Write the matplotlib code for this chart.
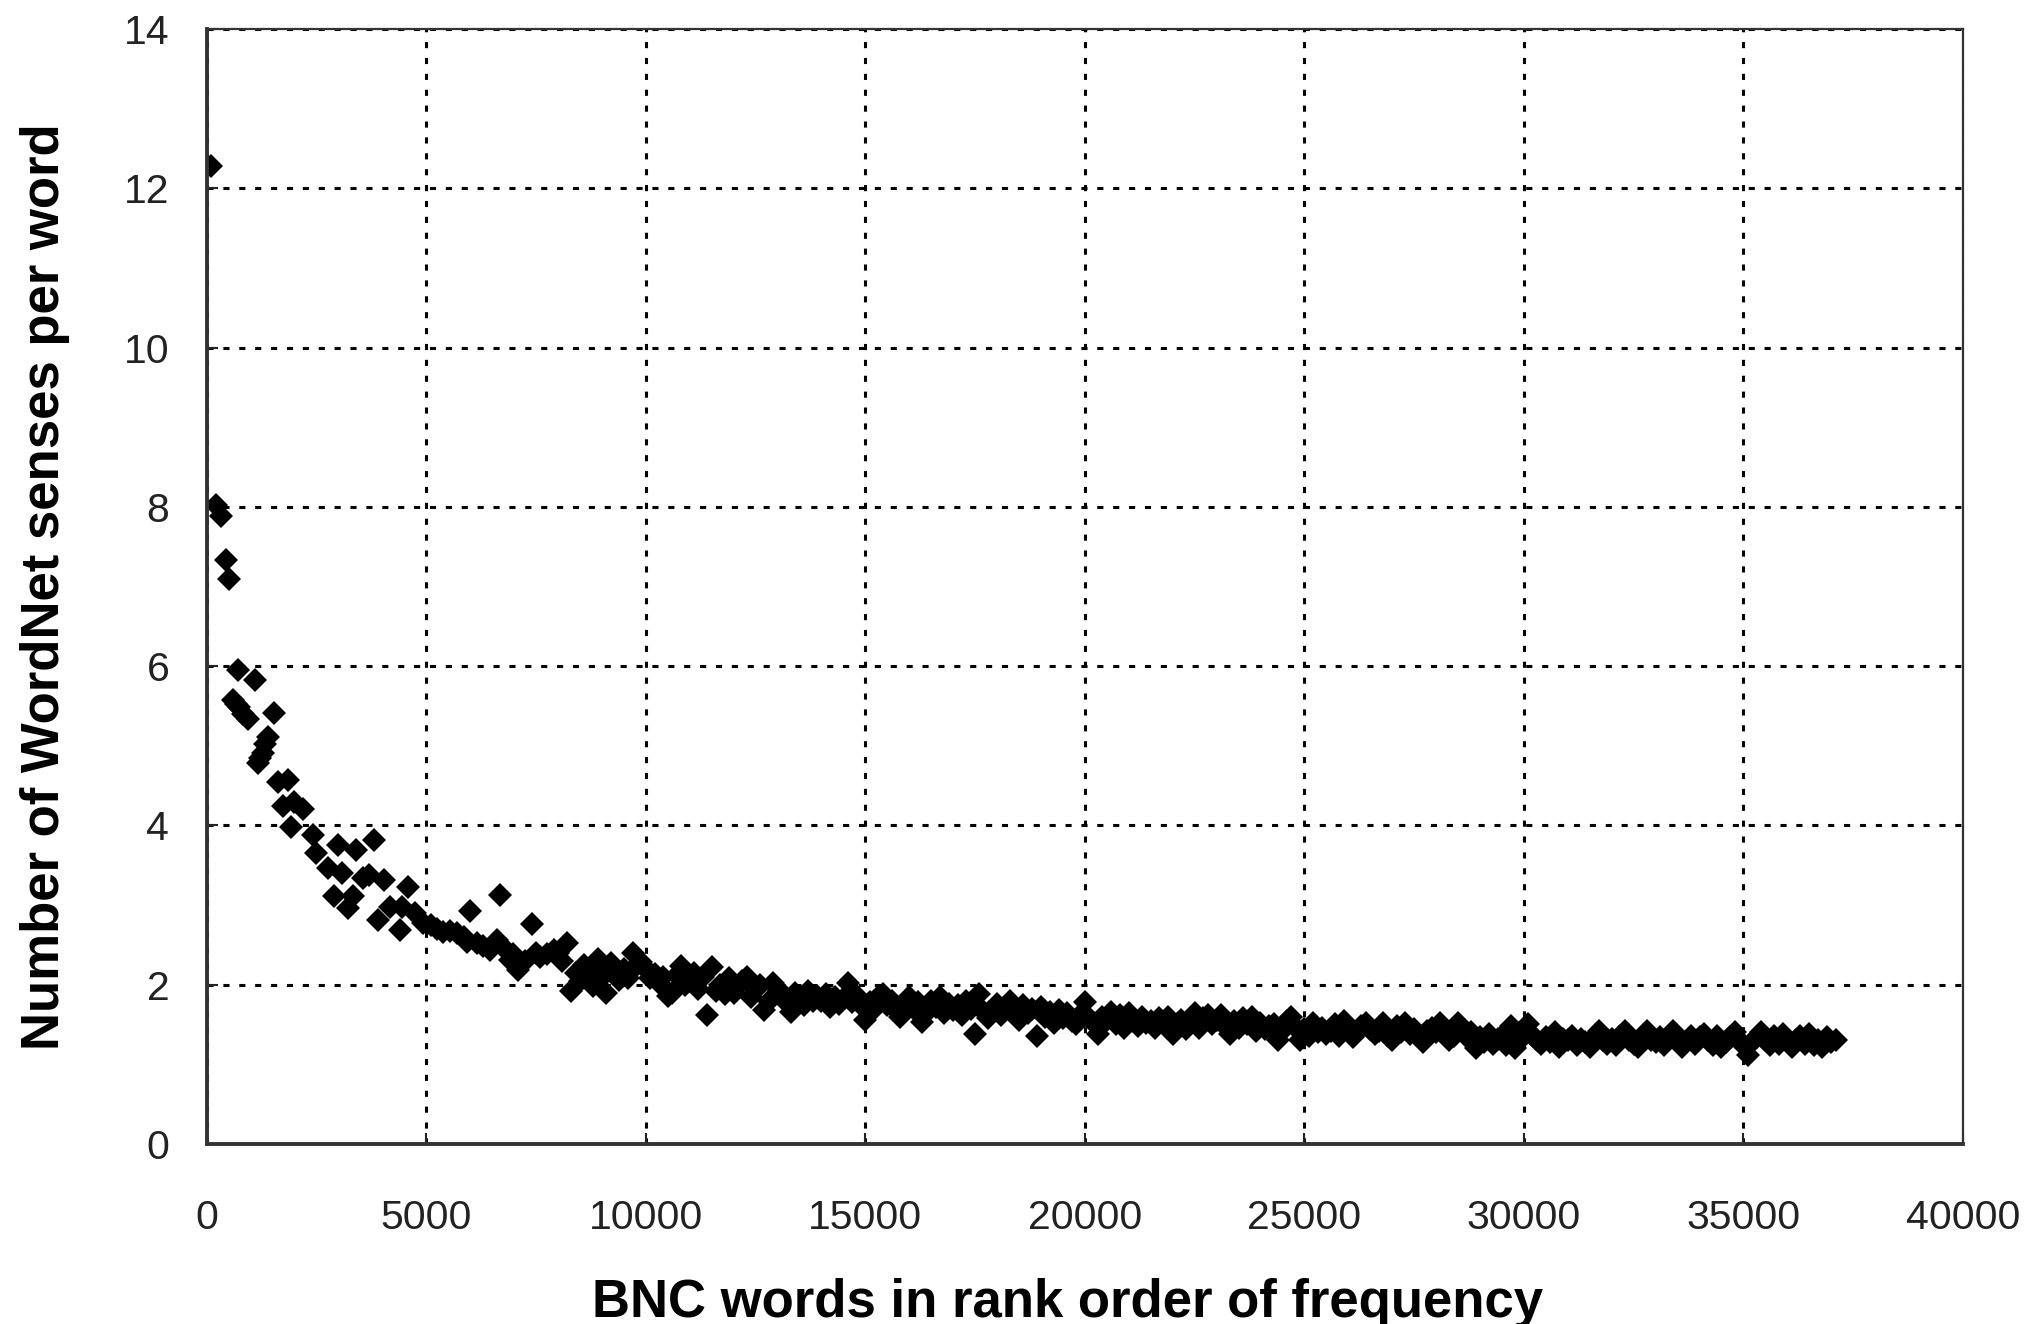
import numpy as np
import matplotlib.pyplot as plt

plt.rcParams['font.family'] = ['Liberation Sans', 'DejaVu Sans']

# first ranks, read point by point
head_rank = [91, 212, 326, 440, 501, 592, 660, 706, 743, 830,
             934, 1107, 1162, 1220, 1275, 1330, 1385, 1540, 1617, 1731,
             1845, 1920, 1990, 2187, 2414, 2490, 2756, 2900, 2984, 3075,
             3226, 3326, 3401, 3568, 3704, 3818, 3909, 4046, 4175, 4403,
             4450, 4592, 4750, 4934, 5100, 5250, 5390, 5550, 5695, 5850,
             5922, 5998, 6150, 6302, 6453, 6606, 6681, 6800, 6909, 6985,
             7099, 7250, 7403, 7500, 7592, 7750, 7900]
head_senses = [12.28, 8.02, 7.88, 7.33, 7.10, 5.57, 5.52, 5.95, 5.49, 5.40,
               5.34, 5.83, 4.78, 4.85, 4.91, 5.02, 5.11, 5.41, 4.55, 4.24,
               4.57, 3.98, 4.30, 4.21, 3.88, 3.65, 3.46, 3.11, 3.75, 3.40,
               2.96, 3.11, 3.69, 3.34, 3.38, 3.82, 2.81, 3.31, 2.98, 2.69,
               2.98, 3.23, 2.90, 2.77, 2.75, 2.70, 2.66, 2.68, 2.65, 2.60,
               2.54, 2.92, 2.52, 2.48, 2.44, 2.56, 3.12, 2.45, 2.31, 2.39,
               2.18, 2.30, 2.76, 2.40, 2.35, 2.38, 2.44]

# from rank 8000 on, one point every 100 ranks
tail_start = 8000
tail_step = 100
tail_senses = [
    2.40, 2.30, 2.52, 1.92, 2.15, 2.05, 2.25, 2.20, 1.98, 2.32,   # 8000
    2.10, 1.90, 2.27, 2.15, 2.06, 2.20, 2.08, 2.40, 2.25, 2.28,   # 9000
    2.20, 2.08, 2.14, 2.02, 2.10, 1.86, 1.90, 2.12, 2.24, 2.00,   # 10000
    2.05, 2.15, 1.95, 2.10, 1.62, 2.22, 1.92, 2.00, 1.88, 2.08,   # 11000
    1.90, 1.98, 2.05, 2.10, 1.85, 1.95, 2.00, 1.68, 1.80, 2.02,   # 12000
    1.95, 1.85, 1.78, 1.66, 1.90, 1.82, 1.75, 1.92, 1.80, 1.86,   # 13000
    1.80, 1.88, 1.72, 1.84, 1.76, 1.82, 2.02, 1.78, 1.86, 1.74,   # 14000
    1.56, 1.78, 1.70, 1.84, 1.88, 1.74, 1.80, 1.68, 1.60, 1.76,   # 15000
    1.84, 1.70, 1.78, 1.53, 1.66, 1.80, 1.72, 1.85, 1.64, 1.76,   # 16000
    1.68, 1.74, 1.62, 1.80, 1.70, 1.38, 1.88, 1.66, 1.58, 1.70,   # 17000
    1.76, 1.62, 1.72, 1.80, 1.66, 1.56, 1.74, 1.64, 1.70, 1.36,   # 18000
    1.72, 1.60, 1.66, 1.52, 1.68, 1.58, 1.64, 1.55, 1.50, 1.62,   # 19000
    1.78, 1.58, 1.52, 1.38, 1.60, 1.56, 1.66, 1.50, 1.62, 1.46,   # 20000
    1.64, 1.55, 1.48, 1.60, 1.52, 1.54, 1.46, 1.58, 1.50, 1.60,   # 21000
    1.38, 1.50, 1.56, 1.44, 1.52, 1.64, 1.46, 1.58, 1.62, 1.50,   # 22000
    1.56, 1.62, 1.48, 1.38, 1.54, 1.46, 1.58, 1.50, 1.60, 1.42,   # 23000
    1.52, 1.44, 1.48, 1.50, 1.30, 1.42, 1.54, 1.60, 1.46, 1.30,   # 24000
    1.44, 1.36, 1.52, 1.40, 1.46, 1.38, 1.42, 1.50, 1.36, 1.54,   # 25000
    1.46, 1.34, 1.40, 1.48, 1.52, 1.44, 1.38, 1.42, 1.52, 1.36,   # 26000
    1.30, 1.48, 1.40, 1.52, 1.38, 1.44, 1.34, 1.28, 1.42, 1.46,   # 27000
    1.40, 1.52, 1.44, 1.30, 1.36, 1.52, 1.46, 1.34, 1.40, 1.20,   # 28000
    1.34, 1.28, 1.38, 1.26, 1.32, 1.36, 1.24, 1.48, 1.20, 1.30,   # 29000
    1.38, 1.50, 1.36, 1.30, 1.26, 1.34, 1.28, 1.40, 1.22, 1.32,   # 30000
    1.30, 1.36, 1.24, 1.32, 1.28, 1.22, 1.34, 1.42, 1.30, 1.26,   # 31000
    1.32, 1.24, 1.36, 1.42, 1.30, 1.26, 1.22, 1.34, 1.42, 1.30,   # 32000
    1.28, 1.34, 1.24, 1.32, 1.42, 1.30, 1.22, 1.28, 1.36, 1.26,   # 33000
    1.34, 1.38, 1.30, 1.24, 1.36, 1.22, 1.28, 1.34, 1.40, 1.30,   # 34000
    1.24, 1.12, 1.28, 1.34, 1.40, 1.30, 1.24, 1.36, 1.26, 1.38,   # 35000
    1.32, 1.22, 1.30, 1.36, 1.26, 1.38, 1.24, 1.30, 1.22, 1.34,   # 36000
    1.28, 1.30,                                                   # 37000
]
tail_rank = tail_start + tail_step * np.arange(len(tail_senses))

xticks = [0, 5000, 10000, 15000, 20000, 25000, 30000, 35000, 40000]
yticks = [0, 2, 4, 6, 8, 10, 12, 14]

fig = plt.figure(figsize=(20.39, 13.24), dpi=100)
ax = fig.add_axes([0.1014, 0.136, 0.8613, 0.842])

ax.plot(head_rank, head_senses, 'D', color='black', markersize=12.5, markeredgewidth=0)
ax.plot(tail_rank, tail_senses, 'D', color='black', markersize=12.5, markeredgewidth=0)

ax.set_xlim(0, 40000)
ax.set_ylim(0, 14)
ax.set_xticks(xticks)
ax.set_yticks(yticks)
ax.grid(True, color='black', linestyle=(0, (2, 3.2)), linewidth=2.2)
ax.set_axisbelow(True)

ax.tick_params(direction='in', length=8, width=1.5, colors='#222222',
               labelsize=29.5, top=False, right=False)
ax.tick_params(axis='x', pad=40)
ax.tick_params(axis='y', pad=27)

for side in ['left', 'bottom']:
    ax.spines[side].set_linewidth(2.8)
    ax.spines[side].set_color('#333333')
for side in ['top', 'right']:
    ax.spines[side].set_linewidth(1.6)
    ax.spines[side].set_color('#333333')

ax.set_xlabel('BNC words in rank order of frequency', fontsize=38, fontweight='bold')
ax.set_ylabel('Number of WordNet senses per word', fontsize=38, fontweight='bold')
ax.xaxis.set_label_coords(0.49, -0.12)
ax.yaxis.set_label_coords(-0.078, 0.5)

plt.savefig('out.png', dpi=100)
